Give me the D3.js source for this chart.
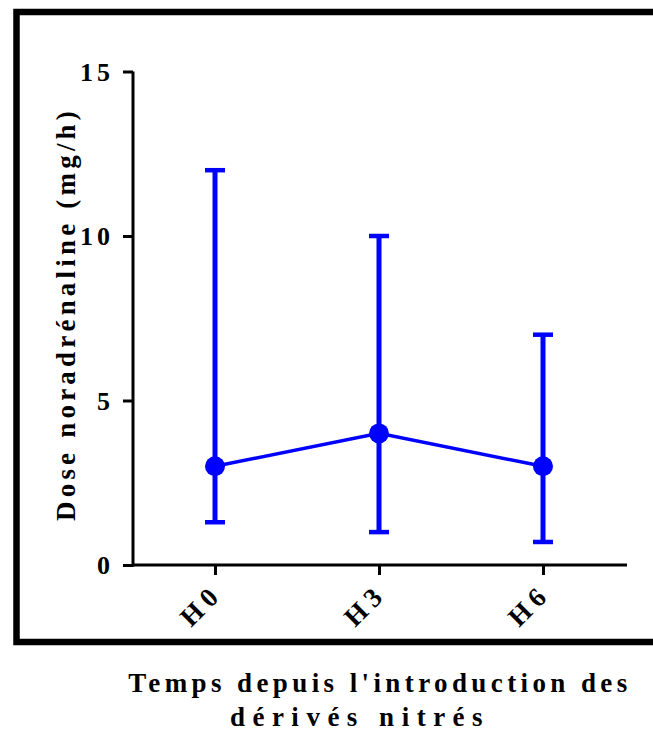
<!DOCTYPE html>
<html>
<head>
<meta charset="utf-8">
<script src="https://cdn.jsdelivr.net/npm/d3@7"></script>
<style>
  body { margin: 0; background: #fff; }
  svg { display: block; }
  text { font-family: "Liberation Serif", "Times New Roman", serif; font-weight: bold; }
</style>
</head>
<body>
<div id="chart"></div>
<script>
// Data
const timepoints = ["H0", "H3", "H6"];
const medians = [3, 4, 3];
const lowerBars = [1.3, 1, 0.7];
const upperBars = [12, 10, 7];
const yTicks = [0, 5, 10, 15];

const width = 653;
const height = 736;
const blue = "#0000ff";

const svg = d3.select("#chart").append("svg")
    .attr("width", width)
    .attr("height", height);

// outer frame (right side runs off the picture)
svg.append("path")
    .attr("d", "M660,12H16.5V642H660")
    .attr("fill", "none")
    .attr("stroke", "#000")
    .attr("stroke-width", 6.5);

const x = d3.scalePoint()
    .domain(timepoints)
    .range([133, 625])
    .padding(0.5);

const y = d3.scaleLinear()
    .domain([0, 15])
    .range([565, 71.5]);

// y axis
const yAxis = svg.append("g")
    .attr("transform", "translate(133,0)")
    .call(d3.axisLeft(y).tickValues(yTicks).tickSize(10).tickSizeOuter(0).tickPadding(14));

// x axis
const xAxis = svg.append("g")
    .attr("transform", "translate(0,565)")
    .call(d3.axisBottom(x).tickSize(10).tickSizeOuter(0).tickFormat(""));

// axis line runs full width past the last category
xAxis.select(".domain").attr("d", "M133,0H627");
yAxis.select(".domain").attr("d", "M0,71.5V566.5");

svg.selectAll(".domain, .tick line")
    .attr("stroke", "#000")
    .attr("stroke-width", 3);

yAxis.attr("font-size", 26).attr("font-family", null);
yAxis.selectAll(".tick text")
    .attr("fill", "#000")
    .style("font-size", "26px")
    .style("letter-spacing", "4px")
    .attr("dx", "5px")
    .attr("dy", "0.34em");

// rotated x tick labels
svg.append("g")
    .selectAll("text")
    .data(timepoints)
    .join("text")
    .attr("transform", d => `translate(${x(d) + 9},${595}) rotate(-45)`)
    .attr("text-anchor", "end")
    .style("font-size", "27px")
    .style("letter-spacing", "6px")
    .text(d => d);

const data = timepoints.map((t, i) => ({
    t, med: medians[i], lo: lowerBars[i], hi: upperBars[i]
}));

// error bars
const bars = svg.append("g")
    .attr("stroke", blue)
    .selectAll("g")
    .data(data)
    .join("g");

bars.append("line")
    .attr("x1", d => x(d.t)).attr("x2", d => x(d.t))
    .attr("y1", d => y(d.lo)).attr("y2", d => y(d.hi))
    .attr("stroke-width", 5);

bars.append("line")
    .attr("x1", d => x(d.t) - 10).attr("x2", d => x(d.t) + 10)
    .attr("y1", d => y(d.hi)).attr("y2", d => y(d.hi))
    .attr("stroke-width", 4.5);

bars.append("line")
    .attr("x1", d => x(d.t) - 10).attr("x2", d => x(d.t) + 10)
    .attr("y1", d => y(d.lo)).attr("y2", d => y(d.lo))
    .attr("stroke-width", 4.5);

// median line
svg.append("path")
    .datum(data)
    .attr("fill", "none")
    .attr("stroke", blue)
    .attr("stroke-width", 3.5)
    .attr("d", d3.line().x(d => x(d.t)).y(d => y(d.med)));

svg.append("g")
    .selectAll("circle")
    .data(data)
    .join("circle")
    .attr("cx", d => x(d.t))
    .attr("cy", d => y(d.med))
    .attr("r", 10)
    .attr("fill", blue);

// axis titles
svg.append("text")
    .attr("transform", "translate(75,314) rotate(-90)")
    .attr("text-anchor", "middle")
    .style("font-size", "27px")
    .style("letter-spacing", "4.2px")
    .text("Dose noradrénaline (mg/h)");

svg.append("text")
    .attr("x", 380)
    .attr("y", 692)
    .attr("text-anchor", "middle")
    .style("font-size", "27px")
    .style("letter-spacing", "4.4px")
    .text("Temps depuis l'introduction des");

svg.append("text")
    .attr("x", 360)
    .attr("y", 726)
    .attr("text-anchor", "middle")
    .style("font-size", "27px")
    .style("letter-spacing", "7.5px")
    .text("dérivés nitrés");
</script>
</body>
</html>
